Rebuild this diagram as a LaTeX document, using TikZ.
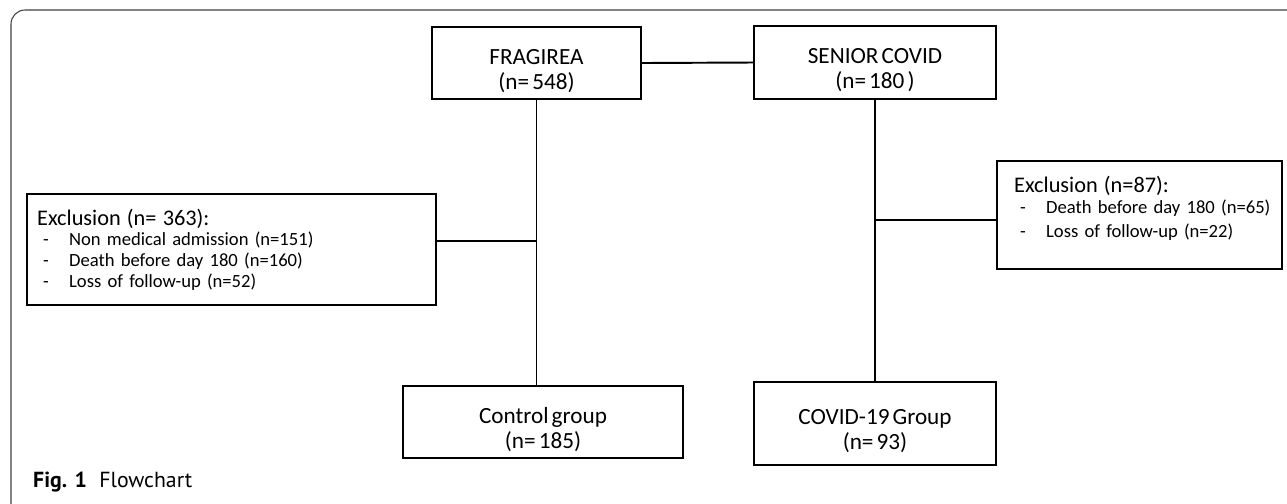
\documentclass[tikz,border=0pt]{standalone}
\usepackage{fontspec}
\setmainfont{Carlito}[WordSpace=0.6]
\newfontfamily\capfont{PT Sans}
\usepackage{tikz}

\newcommand{\boxfont}{\fontsize{13.2pt}{14.2pt}\selectfont}
\newcommand{\itemfont}{\fontsize{10.6pt}{11.95pt}\selectfont}
\newcommand{\exclhead}[1]{{\fontsize{12.7pt}{11.95pt}\selectfont #1}}
\newcommand{\exclline}[1]{\hspace*{0.12cm}\makebox[0.52cm][l]{-}#1}

\tikzset{
  groupbox/.style={draw, line width=1.3pt, align=center, inner sep=0pt,
    font=\boxfont},
  exclbox/.style={draw, line width=1.3pt, align=left, anchor=north west,
    inner ysep=0pt, font=\itemfont},
  link/.style={line width=1.1pt},
}

\begin{document}
\begin{tikzpicture}
        \useasboundingbox (0, 0) rectangle (25.74, -10.06);
        % frame of the figure
        \draw[line width=0.6pt, black!75, rounded corners=0.28cm]
            (26, -0.2) -- (0.22, -0.2) -- (0.22, -10.35) -- (1.5, -10.35);

        % cohorts
        \node[groupbox, minimum width=4.18cm, minimum height=1.44cm] (frag)
            at (10.73, -1.26) {\rule{0pt}{0.62cm}FRAGIREA\\(n= 548)};
        \node[groupbox, minimum width=4.84cm, minimum height=1.46cm] (senior)
            at (17.5, -1.25) {\rule{0pt}{0.62cm}SENIOR COVID\\(n= 180 )};

        % groups
        \node[groupbox, minimum width=5.6cm, minimum height=1.44cm] (ctrl)
            at (10.86, -8.44) {\rule{0pt}{0.62cm}Control group\\(n= 185)};
        \node[groupbox, minimum width=4.84cm, minimum height=1.66cm] (covid)
            at (17.5, -8.47) {\rule{0pt}{0.62cm}COVID-19 Group\\(n= 93)};

        % exclusions
        \node[exclbox, text width=7.78cm, inner xsep=0.2cm, minimum height=2.22cm]
            (exclfrag) at (0.52, -3.86)
            {\exclhead{Exclusion (n= 363):}\\[-0.02cm]
             \exclline{Non medical admission (n=151)}\\
             \exclline{Death before day 180 (n=160)}\\
             \exclline{Loss of follow-up (n=52)}};
        \node[exclbox, text width=5.5cm, inner xsep=0.1cm, minimum height=2.16cm]
            (exclcovid) at (19.92, -3.2)
            {\hspace*{0.24cm}\exclhead{Exclusion (n=87):}\\
             \hspace*{0.24cm}\exclline{Death before day 180 (n=65)}\\[0.06cm]
             \hspace*{0.24cm}\exclline{Loss of follow-up (n=22)}\\[-0.08cm]\mbox{}};

        \draw[link] (frag.east) -- (senior.west);
        \draw[link] (frag.south) -- (frag.south |- ctrl.north);
        \draw[link] (senior.south) -- (senior.south |- covid.north);
        \draw[link] ([yshift=0.17cm]exclfrag.east)
            -- ([yshift=0.17cm]exclfrag.east -| frag.south);
        \draw[link] ([yshift=-0.1cm]exclcovid.west)
            -- ([yshift=-0.1cm]exclcovid.west -| senior.south);

        \node[anchor=base west, font=\capfont\fontsize{12.4pt}{14pt}\selectfont]
            (caption) at (0.54, -9.74) {\textbf{Fig. 1}\hspace{0.25cm}Flowchart};
    \end{tikzpicture}
\end{document}
